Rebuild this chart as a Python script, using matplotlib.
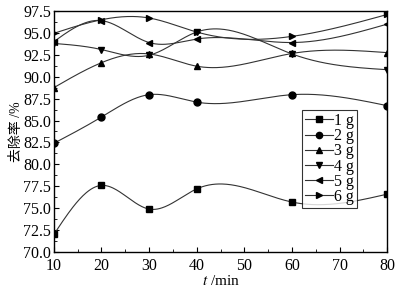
import numpy as np
import matplotlib
matplotlib.use("Agg")
import matplotlib.pyplot as plt
from matplotlib.ticker import MultipleLocator

plt.rcParams['font.family'] = ['Liberation Serif', 'Noto Sans CJK SC']
plt.rcParams['mathtext.fontset'] = 'stix'

# 数据
t = [10, 20, 30, 40, 60, 80]
g1 = [72.0, 77.6, 74.9, 77.2, 75.7, 76.6]
g2 = [82.4, 85.4, 87.95, 87.1, 87.95, 86.7]
g3 = [88.75, 91.6, 92.6, 91.2, 92.65, 92.75]
g4 = [93.8, 93.1, 92.45, 95.1, 92.6, 90.8]
g5 = [94.0, 96.4, 93.9, 94.3, 93.9, 96.0]
g6 = [94.95, 96.5, 96.7, 95.1, 94.6, 97.1]
labels = ['1 g', '2 g', '3 g', '4 g', '5 g', '6 g']
markers = ['s', 'o', '^', 'v', '<', '>']


def natural_spline(x, y, n=300):
    # 自然三次样条
    x = np.asarray(x, float)
    y = np.asarray(y, float)
    k = len(x)
    h = np.diff(x)
    A = np.zeros((k, k))
    b = np.zeros(k)
    A[0, 0] = 1
    A[-1, -1] = 1
    for i in range(1, k - 1):
        A[i, i - 1] = h[i - 1]
        A[i, i] = 2 * (h[i - 1] + h[i])
        A[i, i + 1] = h[i]
        b[i] = 6 * ((y[i + 1] - y[i]) / h[i] - (y[i] - y[i - 1]) / h[i - 1])
    M = np.linalg.solve(A, b)
    xs = np.linspace(x[0], x[-1], n)
    ys = np.empty_like(xs)
    for j, xv in enumerate(xs):
        i = min(np.searchsorted(x, xv, side='right') - 1, k - 2)
        a, c = x[i], x[i + 1]
        hi = c - a
        ys[j] = (M[i] * (c - xv) ** 3 / (6 * hi) + M[i + 1] * (xv - a) ** 3 / (6 * hi)
                 + (y[i] / hi - M[i] * hi / 6) * (c - xv)
                 + (y[i + 1] / hi - M[i + 1] * hi / 6) * (xv - a))
    return xs, ys


fig = plt.figure(figsize=(4.11, 2.89), dpi=100)
ax = fig.add_axes([0.131, 0.128, 0.811, 0.834])

for ys, lab, m in zip([g1, g2, g3, g4, g5, g6], labels, markers):
    xs, sy = natural_spline(t, ys)
    ax.plot(xs, sy, color='#333333', lw=0.8)
    ax.plot(t, ys, ls='none', marker=m, color='black', ms=5)
    ax.plot([], [], color='#333333', lw=0.8, marker=m, ms=4.5, mfc='black', mec='black', label=lab)

ax.set_xlim(10, 80)
ax.set_ylim(70, 97.5)
ax.xaxis.set_major_locator(MultipleLocator(10))
ax.xaxis.set_minor_locator(MultipleLocator(5))
ax.yaxis.set_major_locator(MultipleLocator(2.5))
ax.yaxis.set_minor_locator(MultipleLocator(1.25))
ax.yaxis.set_major_formatter(matplotlib.ticker.FormatStrFormatter('%.1f'))
ax.tick_params(which='both', direction='in', top=False, right=False, labelsize=11.5)
ax.tick_params(which='major', length=3.5)
ax.tick_params(which='minor', length=2)
ax.tick_params(axis='y', which='major', pad=2)
ax.tick_params(axis='x', which='major', pad=4.5)
for s in ax.spines.values():
    s.set_linewidth(1.0)

ax.set_xlabel(r'$t$ /min', fontsize=11, labelpad=0)
ax.set_ylabel('去除率 /%', fontsize=10, labelpad=0)

ax.legend(loc='upper left', bbox_to_anchor=(0.745, 0.59), fontsize=11.5,
          frameon=True, fancybox=False, edgecolor='black', handlelength=1.7,
          handletextpad=0.1, labelspacing=-0.05, borderpad=0.2, borderaxespad=0)
ax.get_legend().get_frame().set_linewidth(0.8)

fig.savefig('out.png', dpi=100)
